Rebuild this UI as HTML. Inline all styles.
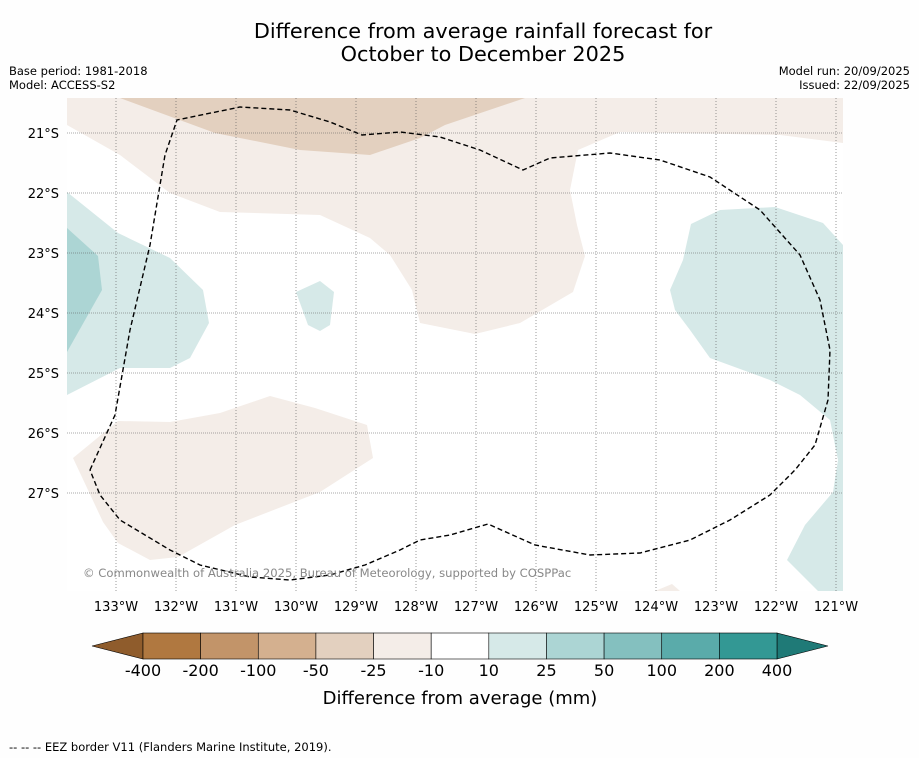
<!DOCTYPE html>
<html><head><meta charset="utf-8"><style>
body{margin:0;background:#fff;font-family:"Liberation Sans","DejaVu Sans",sans-serif}
svg text{font-family:"DejaVu Sans","Liberation Sans",sans-serif}
</style></head><body>
<svg id="chart" width="919" height="758" viewBox="0 0 919 758">
<rect width="919" height="758" fill="#fefefe"/>
<text x="483" y="38" font-size="20.8" text-anchor="middle">Difference from average rainfall forecast for</text>
<text x="483" y="61" font-size="20.8" text-anchor="middle">October to December 2025</text>
<text x="9" y="75" font-size="11.5">Base period: 1981-2018</text>
<text x="9" y="89" font-size="11.5">Model: ACCESS-S2</text>
<text x="910" y="75" font-size="11.5" text-anchor="end">Model run: 20/09/2025</text>
<text x="910" y="89" font-size="11.5" text-anchor="end">Issued: 22/09/2025</text>
<g id="map">
<clipPath id="mc"><rect x="67" y="98" width="776" height="493"/></clipPath>
<g clip-path="url(#mc)">
<rect x="67" y="98" width="776" height="493" fill="#fff"/>
<polygon fill="#f4ede8" points="67,98 843,98 843,143 780,135 620,132 578,150 570,190 577,225 585,256 573,292 520,323 475,334 420,323 412,290 390,255 370,238 320,215 220,212 170,193 120,155 67,125"/>
<polygon fill="#e3d0bf" points="120,98 525,98 445,125 420,138 370,155 300,150 215,133"/>
<polygon fill="#f4ede8" points="73,458 118,421 170,422 220,413 270,396 315,408 367,425 373,458 320,492 235,525 178,557 150,560 118,543 103,522"/>
<polygon fill="#d6e9e8" points="67,192 118,233 170,258 203,290 209,323 190,358 170,368 120,368 67,395"/>
<polygon fill="#acd5d4" points="67,228 98,256 102,290 67,352"/>
<polygon fill="#d6e9e8" points="296,292 320,281 334,292 330,325 320,331 308,325"/>
<polygon fill="#d6e9e8" points="691,224 720,210 775,207 823,223 843,245 843,591 818,591 787,560 805,525 833,492 838,460 830,420 800,395 770,380 710,358 690,330 675,310 670,290 683,260"/>
<polygon fill="#f4ede8" points="655,591 672,584 680,591"/>
<g id="grid"></g>
<polyline fill="none" stroke="#000" stroke-width="1.4" stroke-dasharray="5,3" points="90,470 115,415 130,330 150,245 165,155 177,120 240,107 290,110 330,122 362,135 400,132 440,137 480,150 523,170 550,158 610,153 660,160 710,177 760,210 800,255 820,300 830,350 828,400 815,445 795,470 770,495 730,520 690,540 640,553 590,555 535,545 488,524 450,535 420,540 400,550 365,565 330,575 290,580 250,577 200,565 170,550 120,520 100,495 90,470"/>
</g>
<text x="83" y="577" font-size="11.6" fill="#888">© Commonwealth of Australia 2025, Bureau of Meteorology, supported by COSPPac</text>
<g id="ticks"></g>
</g>
<g id="cbar"></g>
<text x="460" y="704" font-size="18" text-anchor="middle">Difference from average (mm)</text>
<text x="9" y="751" font-size="11.5">--  --  -- EEZ border V11 (Flanders Marine Institute, 2019).</text>
</svg>
<script>
const lonTicks=[133,132,131,130,129,128,127,126,125,124,123,122,121];
const latTicks=[21,22,23,24,25,26,27];
const levelLabels=["-400","-200","-100","-50","-25","-10","10","25","50","100","200","400"];
const levelColors=["#b07840","#c29469","#d4b08f","#e3d0bf","#f4ede8","#ffffff","#d6e9e8","#acd5d4","#84c0bf","#5aabaa","#339894"];
const NS="http://www.w3.org/2000/svg";
const xLon=l=>116+(133-l)*60, yLat=l=>133+(l-21)*60;
function mk(t,a,p){const e=document.createElementNS(NS,t);for(const k in a)e.setAttribute(k,a[k]);p.appendChild(e);return e;}
const grid=document.getElementById('grid'),ticks=document.getElementById('ticks');
lonTicks.forEach(l=>{const x=xLon(l);
const g=mk('line',{x1:x,x2:x,y1:98,y2:591,stroke:'#555','stroke-width':0.6,'stroke-dasharray':'1,2'},grid);


const t=mk('text',{x:x,y:611,'font-size':13,'text-anchor':'middle'},ticks);t.textContent=l+'°W';

});
latTicks.forEach(l=>{const y=yLat(l);
const g=mk('line',{x1:67,x2:843,y1:y,y2:y,stroke:'#555','stroke-width':0.6,'stroke-dasharray':'1,1'},grid);


const t=mk('text',{x:59,y:y+5,'font-size':13,'text-anchor':'end'},ticks);t.textContent=l+'°S';

});
const cb=document.getElementById('cbar');const x0=143,x1=777,y0=633,h=26,w=(x1-x0)/levelColors.length;
const lo=mk('polygon',{points:`92,${y0+h/2} ${x0},${y0} ${x0},${y0+h}`,fill:'#8f5c2c',stroke:'#000','stroke-width':0.6},cb);


const hi=mk('polygon',{points:`828,${y0+h/2} ${x1},${y0} ${x1},${y0+h}`,fill:'#1f7a77',stroke:'#000','stroke-width':0.6},cb);


levelColors.forEach((c,i)=>{const r=mk('rect',{x:x0+i*w,y:y0,width:w,height:h,fill:c,stroke:'#000','stroke-width':0.6},cb);

});
levelLabels.forEach((s,i)=>{const t=mk('text',{x:x0+i*w,y:676,'font-size':16,'text-anchor':'middle'},cb);t.textContent=s;

});
</script>
</body></html>
